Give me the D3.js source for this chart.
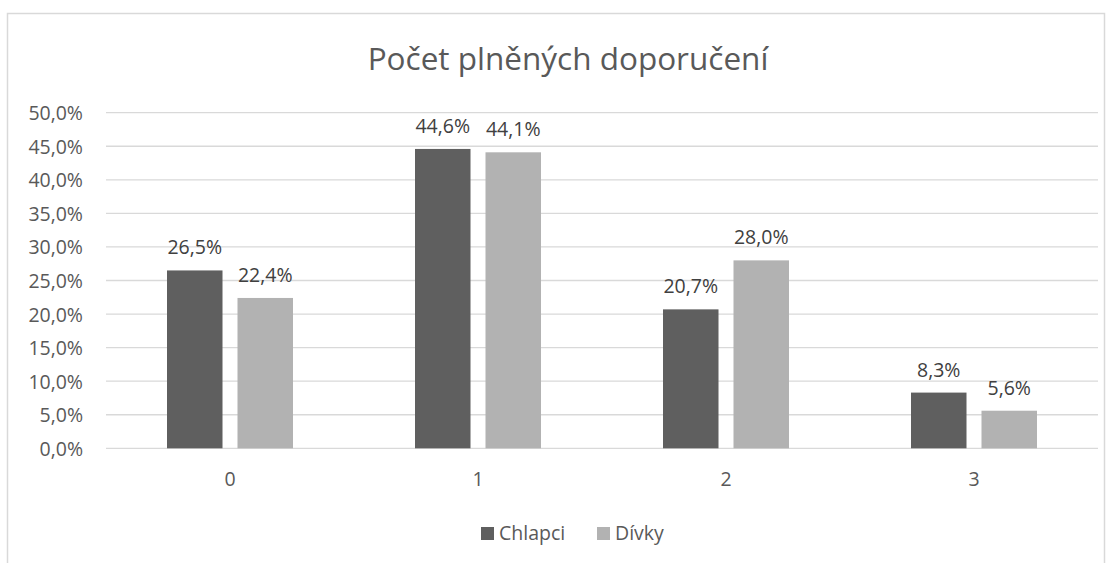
<!DOCTYPE html>
<html><head><meta charset="utf-8">
<script src="https://cdn.jsdelivr.net/npm/d3@7"></script>
<style>body{margin:0;background:#fff;} text{font-family:"Open Sans","Noto Sans",sans-serif;}</style>
</head><body><svg id="c" width="1113" height="563"></svg>
<script>
const categories = ["0","1","2","3"];
const seriesNames = ["Chlapci","Dívky"];
const chlapci = [26.5, 44.6, 20.7, 8.3];
const divky = [22.4, 44.1, 28.0, 5.6];
const yTicks = [0,5,10,15,20,25,30,35,40,45,50];
const title = "Počet plněných doporučení";
const colors = ["#5f5f5f","#b2b2b2"];

(function(){
const svg = d3.select("#c");
svg.append("rect").attr("x",7.5).attr("y",13.5).attr("width",1097).attr("height",560)
  .attr("fill","#fff").attr("stroke","#d9d9d9").attr("stroke-width",1.5);

const pl=106,pr=1098,pt=112.7,pb=448.3;
const x = d3.scaleBand().domain(categories).range([pl,pr]);
const y = d3.scaleLinear().domain([0,50]).range([pb,pt]);
const fmt = v => d3.format(".1f")(v).replace(".",",")+"%";
const FS = "19.5px";

svg.append("g").selectAll("line").data(yTicks).join("line")
  .attr("x1",pl).attr("x2",pr).attr("y1",d=>y(d)).attr("y2",d=>y(d))
  .attr("stroke","#d9d9d9").attr("stroke-width",1.3);

const ya = svg.append("g").attr("transform",`translate(${pl},0)`)
  .call(d3.axisLeft(y).tickValues(yTicks).tickFormat(fmt).tickSize(0).tickPadding(23));
ya.select(".domain").remove();
ya.selectAll("text").attr("fill","#595959").attr("dy","0.36em").style("font-size",FS).style("font-family","'Open Sans',sans-serif");

const xa = svg.append("g").attr("transform",`translate(0,${pb})`)
  .call(d3.axisBottom(x).tickSize(0).tickPadding(24));
xa.select(".domain").remove();
xa.selectAll("text").attr("fill","#595959").attr("dy","0.71em").style("font-size",FS).style("font-family","'Open Sans',sans-serif");

const barW = 55.5, gap = 15;
[chlapci, divky].forEach((vals,si)=>{
  const off = (si===0) ? -(gap/2+barW) : gap/2;
  const g = svg.append("g");
  g.selectAll("rect").data(vals).join("rect")
    .attr("x",(d,i)=>x(categories[i])+x.bandwidth()/2+off)
    .attr("width",barW)
    .attr("y",d=>y(d)).attr("height",d=>pb-y(d))
    .attr("fill",colors[si]);
  g.selectAll("text").data(vals).join("text")
    .attr("x",(d,i)=>x(categories[i])+x.bandwidth()/2+off+barW/2)
    .attr("y",d=>y(d)-16)
    .attr("text-anchor","middle").attr("fill","#404040").style("font-size",FS)
    .text(fmt);
});

svg.append("text").attr("x",568).attr("y",69.5).attr("text-anchor","middle")
  .attr("fill","#595959").style("font-size","31.5px").text(title);

const legX = [481, 597];
seriesNames.forEach((n,i)=>{
  svg.append("rect").attr("x",legX[i]).attr("y",527).attr("width",13).attr("height",13).attr("fill",colors[i]);
  svg.append("text").attr("x",legX[i]+18).attr("y",540).attr("fill","#595959").style("font-size",FS).text(n);
});
})();
</script></body></html>
